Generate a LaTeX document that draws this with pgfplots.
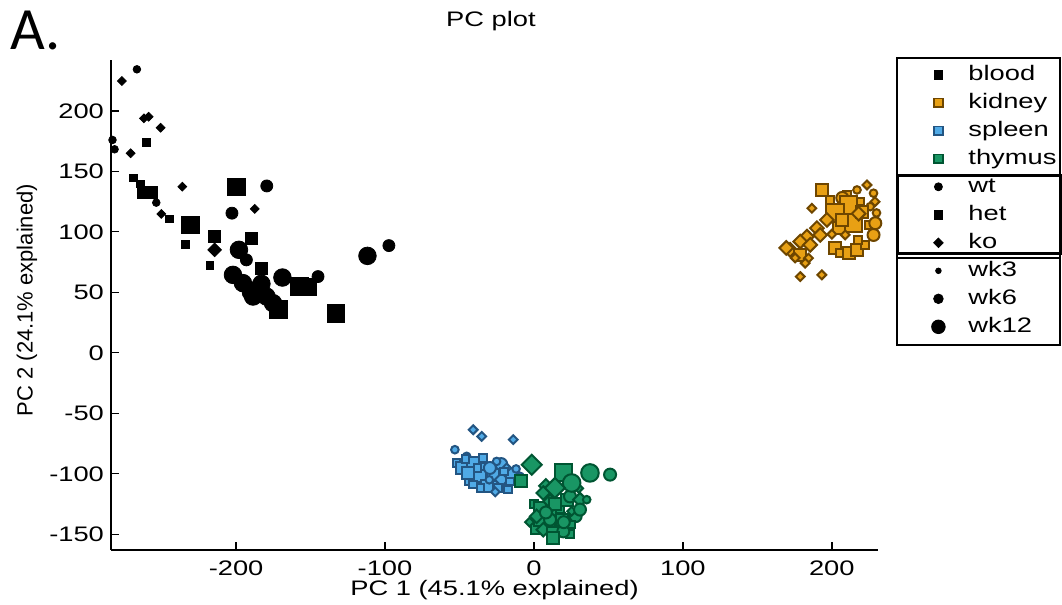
\documentclass[border=0pt]{standalone}
\usepackage{fontspec}
\setmainfont{Liberation Sans}[FakeStretch=1.3]
\newfontfamily\ylabfont{Liberation Sans}
\newfontfamily\panelfont{Carlito}
\usepackage{pgfplots}
\usepackage{pgfplotstable}
\pgfplotsset{compat=1.18}

\definecolor{kfill}{RGB}{232,160,20}
\definecolor{kedge}{RGB}{110,70,0}
\definecolor{sfill}{RGB}{80,170,230}
\definecolor{sedge}{RGB}{35,85,130}
\definecolor{tfill}{RGB}{25,150,100}
\definecolor{tedge}{RGB}{0,85,50}

\newcommand{\fs}{\fontsize{10.5}{12}\selectfont}

% square diamond (pgf's diamond is narrower)
\pgfdeclareplotmark{dmd}{%
  \pgfpathmoveto{\pgfqpoint{0pt}{\pgfplotmarksize}}%
  \pgfpathlineto{\pgfqpoint{\pgfplotmarksize}{0pt}}%
  \pgfpathlineto{\pgfqpoint{0pt}{-\pgfplotmarksize}}%
  \pgfpathlineto{\pgfqpoint{-\pgfplotmarksize}{0pt}}%
  \pgfpathclose\pgfusepathqfillstroke}

% genotype (shape) x age (size)
\pgfplotsset{
  pcclasses/.style={
    scatter, only marks, point meta=explicit symbolic,
    scatter/classes={
      wt3={mark=*,mark size=1.9pt}, wt6={mark=*,mark size=3.0pt}, wt12={mark=*,mark size=4.4pt},
      het3={mark=square*,mark size=1.9pt}, het6={mark=square*,mark size=3.0pt}, het12={mark=square*,mark size=4.4pt},
      ko3={mark=dmd,mark size=2.2pt}, ko6={mark=dmd,mark size=3.4pt}, ko12={mark=dmd,mark size=5.0pt}
    }
  }
}

\pgfplotstableread{
x y c
-266.6 234.3 wt3
-276.7 224.6 ko3
-261.9 193.8 ko3
-258.7 195.1 ko3
-250.7 186.0 ko3
-283.0 175.9 wt3
-281.6 168.2 wt3
-260.3 173.7 het3
-270.8 164.9 ko3
-268.8 144.5 het3
-264.1 139.6 het3
-262.1 132.9 het6
-256.7 132.9 het6
-236.1 137.3 ko3
-199.6 137.1 het12
-179.4 137.9 wt6
-253.6 124.1 wt3
-250.2 114.8 ko3
-244.6 110.7 het3
-230.5 105.7 het12
-202.8 115.4 wt6
-187.5 118.9 ko3
-233.9 89.8 het3
-214.4 96.0 het6
-189.7 94.7 het6
-214.4 85.1 ko6
-217.7 72.1 het3
-198.1 85.1 wt12
-193.1 76.8 wt6
-183.0 69.4 het6
-202.1 64.4 wt12
-195.4 57.6 wt12
-186.4 52.0 wt12
-179.6 46.5 wt12
-188.6 46.5 wt12
-175.2 41.0 wt12
-190.0 50.0 wt12
-183.0 57.0 wt12
-171.8 36.1 het12
-168.9 62.2 wt12
-157.3 54.7 het12
-151.7 54.3 het12
-145.0 63.0 wt6
-133.1 32.8 het12
-111.8 80.1 wt12
-97.4 88.6 wt6
}\blood

\pgfplotstableread{
x y c
193.3 134.6 het6
210.1 130.5 het3
216.9 134.6 wt3
223.6 138.7 ko3
228.0 131.9 wt3
229.0 124.9 ko3
219.1 124.9 het3
212.4 123.6 ko3
225.8 120.8 wt3
198.9 126.3 het3
207.0 128.0 wt6
211.2 122.2 het12
202.3 115.4 het12
214.6 107.1 het12
220.4 116.4 het6
204.5 103.0 het6
196.7 109.8 ko6
186.6 119.5 ko3
190.0 103.0 ko6
183.3 96.0 ko6
178.8 91.9 ko6
172.0 85.1 ko6
169.4 86.7 ko6
178.8 80.9 het6
184.3 78.2 ko3
182.1 74.1 ko3
175.4 78.4 ko3
185.5 89.2 ko6
192.2 97.4 ko6
209.0 97.4 ko3
178.8 63.0 ko3
193.3 64.4 ko3
202.3 86.5 het6
205.6 82.3 het3
211.2 82.3 het6
216.9 85.1 het6
222.4 89.2 het3
217.7 93.3 het3
224.5 105.7 het3
228.0 97.4 wt6
229.2 107.1 wt6
230.0 115.6 wt3
207.0 110.0 het6
218.0 115.0 ko6
200.0 98.0 ko3
}\kidney

\pgfplotstableread{
x y c
-40.8 -63.6 ko3
-35.1 -69.1 ko3
-13.9 -71.8 ko3
-53.1 -80.1 wt3
-51.9 -91.1 het3
-45.2 -85.6 wt3
-48.0 -95.0 het6
-42.0 -104.0 het6
-34.0 -96.0 het6
-28.0 -108.0 het6
-22.0 -92.0 wt6
-15.0 -100.0 het6
-40.8 -91.1 het6
-34.1 -87.0 het3
-25.1 -89.8 wt3
-18.3 -95.2 ko3
-44.2 -99.3 het6
-36.3 -102.1 het6
-27.4 -100.7 het6
-21.7 -104.9 ko6
-16.1 -106.3 het3
-40.8 -109.0 het3
-31.8 -110.4 het6
-24.0 -111.7 het3
-17.3 -113.1 het3
-36.0 -112.0 het3
-26.0 -115.0 ko3
-10.0 -108.0 het3
-46.0 -88.0 het3
-9.4 -102.1 wt3
-29.6 -95.2 wt6
-38.0 -95.0 het3
-30.0 -105.0 wt3
-20.0 -98.0 het3
-12.0 -96.0 wt3
}\spleen

\pgfplotstableread{
x y c
8.0 -110.0 ko6
22.0 -122.0 het6
28.0 -135.0 wt6
0.0 -125.0 het3
2.0 -145.0 het6
16.0 -132.0 ko6
10.0 -143.0 wt6
24.0 -150.0 het3
30.0 -112.0 ko3
-3.0 -140.0 ko3
4.0 -128.2 het6
10.8 -122.8 ko6
17.5 -129.6 het3
24.2 -118.7 wt6
30.9 -121.4 ko6
35.4 -121.4 wt3
4.0 -137.9 het6
10.8 -137.9 wt6
18.6 -137.9 het6
25.3 -131.0 ko3
6.3 -146.2 ko6
13.0 -148.9 het6
19.7 -147.6 wt6
13.0 -153.0 het6
25.3 -142.0 het3
1.8 -135.2 ko6
30.9 -129.6 wt6
20.0 -140.0 wt6
14.0 -125.0 het6
8.0 -132.0 wt6
6.3 -115.9 ko6
-1.5 -92.5 ko12
-8.9 -106.3 het6
19.7 -98.8 het12
37.6 -99.3 wt12
51.1 -100.7 wt6
25.3 -107.6 wt12
14.1 -111.7 ko12
}\thymus

\begin{document}
\begin{tikzpicture}
\useasboundingbox (0,0) rectangle (531pt,302.5pt);
\begin{axis}[
  scale only axis, width=383.5pt, height=245pt,
  at={(55.5pt,27.5pt)}, anchor=south west,
  xmin=-284, xmax=231, ymin=-163, ymax=242,
  axis x line*=bottom, axis y line*=left,
  axis line style={line width=0.8pt},
  xtick={-200,-100,0,100,200},
  ytick={-150,-100,-50,0,50,100,150,200},
  tick align=inside, major tick length=4pt,
  tick style={line width=0.7pt, black},
  /pgf/number format/assume math mode=true,
  ticklabel style={font=\fs},
  xticklabel style={yshift=-2pt},
  xlabel={PC 1 (45.1\% explained)},
  xlabel style={font=\fs, at={(axis description cs:0.5,-0.0816)}, anchor=center},
  ylabel={PC 2 (24.1\% explained)},
  ylabel style={font=\ylabfont\fontsize{11}{13}\selectfont, at={(axis description cs:-0.1095,0.51)}, anchor=center},
  title={PC plot},
  title style={font=\fs, at={(axis description cs:0.4954,1.0551)}, anchor=center},
  clip=false,
  legend image code/.code={\draw[only marks,#1] plot coordinates {(0pt,0pt)};},
  legend cell align=left,
  legend style={
    at={(axis description cs:1.0694,0.9910)}, anchor=north west,
    draw=none, fill=none, inner sep=0pt, row sep=4.0pt,
    font=\fs,
    nodes={inner sep=0pt, text height=8pt, text depth=2pt},
    /tikz/every odd column/.append style={column sep=11.6pt}
  },
]
\addplot[pcclasses, draw=black, fill=black, forget plot] table[x=x, y=y, meta=c] {\blood};
\addplot[pcclasses, draw=kedge, fill=kfill, line width=1pt, forget plot] table[x=x, y=y, meta=c] {\kidney};
\addplot[pcclasses, draw=sedge, fill=sfill, line width=1pt, forget plot] table[x=x, y=y, meta=c] {\spleen};
\addplot[pcclasses, draw=tedge, fill=tfill, line width=1pt, forget plot] table[x=x, y=y, meta=c] {\thymus};

\addlegendimage{mark=square*, mark size=2.2pt, draw=black, fill=black}
\addlegendentry{blood}
\addlegendimage{mark=square*, mark size=2.2pt, draw=kedge, fill=kfill, line width=0.8pt}
\addlegendentry{kidney}
\addlegendimage{mark=square*, mark size=2.2pt, draw=sedge, fill=sfill, line width=0.8pt}
\addlegendentry{spleen}
\addlegendimage{mark=square*, mark size=2.2pt, draw=tedge, fill=tfill, line width=0.8pt}
\addlegendentry{thymus}
\addlegendimage{mark=*, mark size=2.0pt, draw=black, fill=black}
\addlegendentry{wt}
\addlegendimage{mark=square*, mark size=2.2pt, draw=black, fill=black}
\addlegendentry{het}
\addlegendimage{mark=dmd, mark size=2.4pt, draw=black, fill=black}
\addlegendentry{ko}
\addlegendimage{mark=*, mark size=1.4pt, draw=black, fill=black}
\addlegendentry{wk3}
\addlegendimage{mark=*, mark size=2.4pt, draw=black, fill=black}
\addlegendentry{wk6}
\addlegendimage{mark=*, mark size=3.4pt, draw=black, fill=black}
\addlegendentry{wk12}
\end{axis}
% legend frames
\draw[line width=0.6pt] (448.5pt,273.5pt) rectangle (530pt,130pt);
\draw[line width=1.5pt] (448.5pt,214.5pt) rectangle (530pt,175.5pt);
\draw[line width=0.6pt] (448.5pt,173.5pt) -- (530pt,173.5pt);
\node[anchor=base west, inner sep=0pt, font=\panelfont\fontsize{30}{34}\selectfont] at (5pt,277.5pt) {A.};
\end{tikzpicture}
\end{document}
